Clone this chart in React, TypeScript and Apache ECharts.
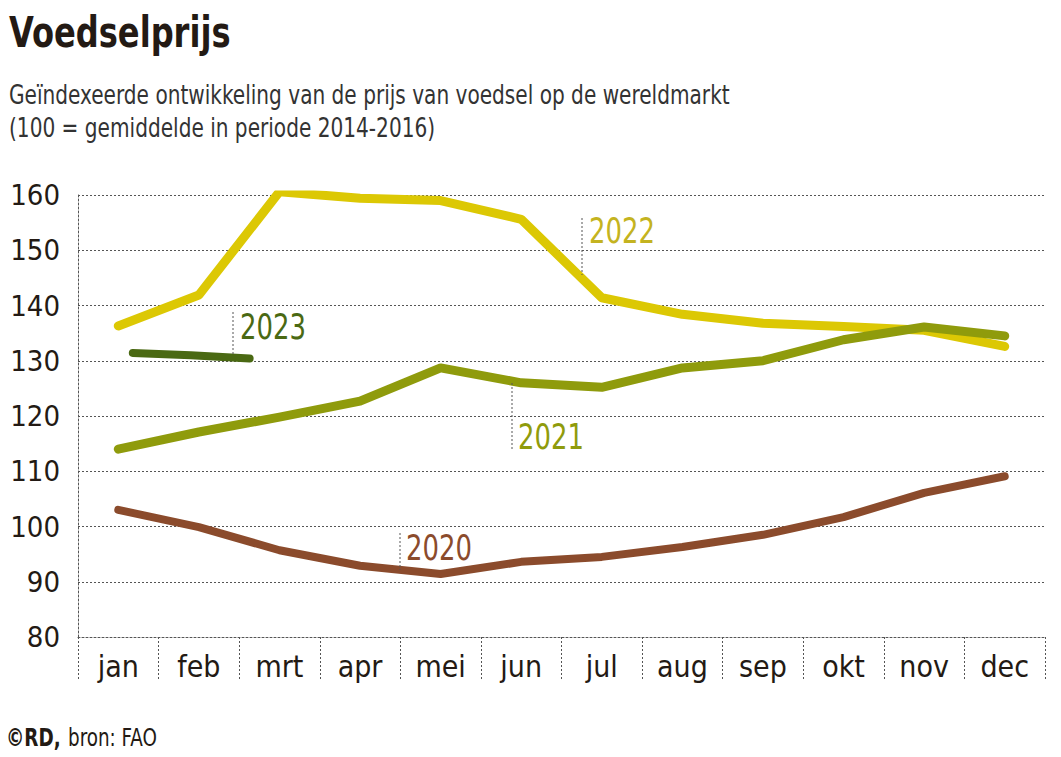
import React, { useEffect, useRef } from "react";
import * as echarts from "echarts";

const months = ["jan", "feb", "mrt", "apr", "mei", "jun", "jul", "aug", "sep", "okt", "nov", "dec"];
const yTicks = [80, 90, 100, 110, 120, 130, 140, 150, 160];
const s2020 = [103.0, 99.9, 95.7, 92.9, 91.4, 93.6, 94.5, 96.3, 98.5, 101.7, 106.1, 109.1];
const s2021 = [114.0, 117.1, 119.8, 122.7, 128.7, 126.0, 125.2, 128.7, 130.0, 133.8, 136.1, 134.5];
const s2022 = [136.3, 141.9, 160.6, 159.4, 159.0, 155.6, 141.4, 138.4, 136.8, 136.2, 135.5, 132.6];
const s2023x = [0.18, 0.9, 1.63];
const s2023 = [131.4, 131.0, 130.4];

const FONT = "'Liberation Sans Narrow', 'DejaVu Sans Condensed', 'Noto Sans', sans-serif";
const C2020 = "#8b4b2c";
const C2021 = "#8f9b0c";
const C2022 = "#dcc804";
const C2022T = "#c4b320";
const C2023 = "#4a6913";
const GRID = "#555";
const INK = "#231a14";

export default function App() {
  const ref = useRef<HTMLDivElement>(null);
  useEffect(() => {
    if (!ref.current) return;
    const chart = echarts.init(ref.current, null, { renderer: "svg" });
    const leader = (x: number, y1: number, y2: number) => ({
      type: "line",
      shape: { x1: x, y1, x2: x, y2 },
      style: { stroke: GRID, lineWidth: 1, lineDash: [2, 2] },
      z: 5,
    });
    const txt = (
      text: string,
      x: number,
      y: number,
      color: string,
      size: number,
      sx: number,
      weight: string = "normal"
    ) => ({
      type: "text",
      x,
      y,
      scaleX: sx,
      style: {
        text,
        fill: color,
        fontFamily: FONT,
        fontSize: size,
        fontWeight: weight,
        verticalAlign: "middle",
        align: "left",
      },
      z: 5,
    });
    chart.setOption({
      animation: false,
      backgroundColor: "#fff",
      grid: { left: 78, right: 16, top: 195, bottom: 120 },
      xAxis: [
        {
          type: "category",
          data: months,
          boundaryGap: true,
          axisLine: { show: true, lineStyle: { color: GRID, type: [2, 2], width: 1 } },
          axisTick: { show: true, interval: 0, length: 43, lineStyle: { color: GRID, type: [2, 2], width: 1 } },
          axisLabel: { fontFamily: FONT, fontSize: 30, color: INK, margin: 14, interval: 0 },
          splitLine: { show: false },
        },
        {
          type: "value",
          min: -0.5,
          max: 11.5,
          show: false,
        },
      ],
      yAxis: {
        type: "value",
        min: 80,
        max: 160,
        interval: 10,
        axisLine: { show: true, onZero: false, lineStyle: { color: GRID, type: [2, 2], width: 1 } },
        axisTick: { show: false },
        axisLabel: {
          fontFamily: FONT,
          fontSize: 29,
          color: INK,
          margin: 18,
          formatter: (v: number) => (yTicks.includes(v) ? String(v) : ""),
        },
        splitLine: { show: true, lineStyle: { color: GRID, type: [2, 2], width: 1 } },
      },
      series: [
        {
          name: "2020",
          type: "line",
          data: s2020,
          symbol: "none",
          lineStyle: { color: C2020, width: 8, cap: "round", join: "round" },
          z: 3,
        },
        {
          name: "2021",
          type: "line",
          data: s2021,
          symbol: "none",
          lineStyle: { color: C2021, width: 9, cap: "round", join: "round" },
          z: 4,
        },
        {
          name: "2022",
          type: "line",
          data: s2022,
          symbol: "none",
          lineStyle: { color: C2022, width: 9, cap: "round", join: "round" },
          z: 3,
        },
        {
          name: "2023",
          type: "line",
          xAxisIndex: 1,
          data: s2023x.map((x, i) => [x, s2023[i]]),
          symbol: "none",
          lineStyle: { color: C2023, width: 8, cap: "round", join: "round" },
          z: 4,
        },
      ],
      graphic: [
        txt("Voedselprijs", 9, 32, INK, 42, 0.85, "bold"),
        txt("Geïndexeerde ontwikkeling van de prijs van voedsel op de wereldmarkt", 9, 95, "#333", 26, 0.86),
        txt("(100 = gemiddelde in periode 2014-2016)", 9, 128, "#333", 26, 0.86),
        txt("©RD,", 6, 737, INK, 24, 0.85, "bold"),
        txt("bron: FAO", 68, 737, INK, 24, 0.85),
        leader(582, 218, 275),
        txt("2022", 589, 231, C2022T, 36, 0.8),
        leader(233, 312, 355),
        txt("2023", 240, 327, C2023, 36, 0.8),
        leader(512, 383, 450),
        txt("2021", 518, 437, C2021, 36, 0.8),
        leader(400, 533, 570),
        txt("2020", 406, 548, C2020, 36, 0.8),
      ],
    });
    return () => chart.dispose();
  }, []);
  return <div ref={ref} style={{ position: "fixed", left: 0, top: 0, width: 1061, height: 757 }} />;
}
